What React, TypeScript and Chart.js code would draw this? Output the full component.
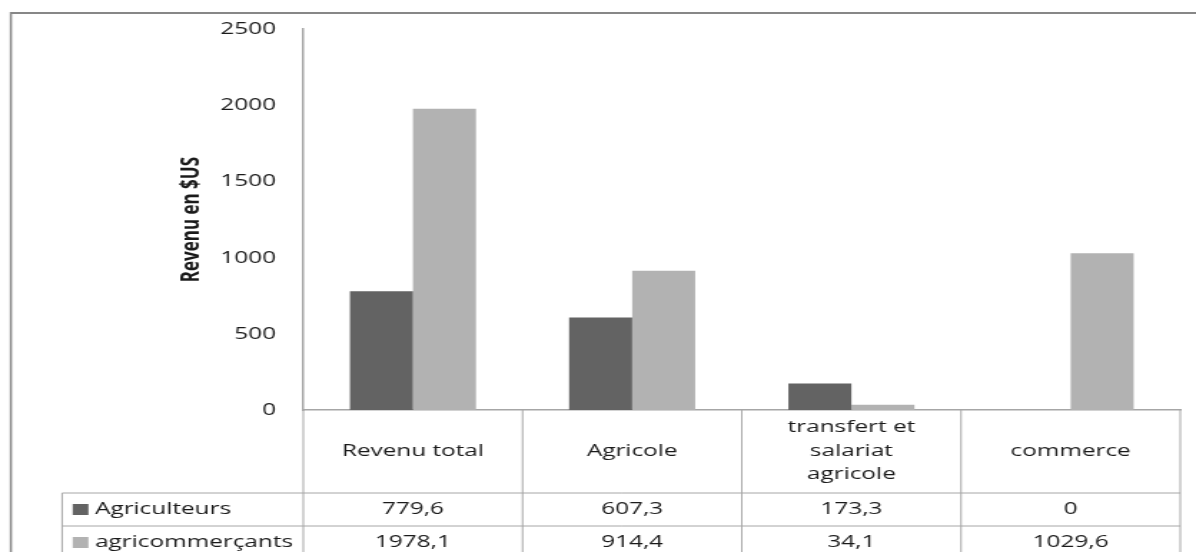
import React, { useEffect, useRef } from "react";
import { Chart, registerables } from "chart.js";

Chart.register(...registerables);

// ---- data ----
const categories: string[][] = [
  ["Revenu total"],
  ["Agricole"],
  ["transfert et", "salariat", "agricole"],
  ["commerce"],
];
const seriesNames: string[] = ["Agriculteurs", "agricommerçants"];
const agriculteurs: number[] = [779.6, 607.3, 173.3, 0];
const agricommercants: number[] = [1978.1, 914.4, 34.1, 1029.6];
const yTickValues: number[] = [0, 500, 1000, 1500, 2000, 2500];
const yAxisTitle = "Revenu en $US";
const seriesColors: string[] = ["#636363", "#b2b2b2"];

// ---- layout (logical canvas, stretched horizontally like the reference) ----
const SX = 1.43;
const W = Math.round(1196 / SX);
const H = 552;
const FONT = "'Open Sans', 'DejaVu Sans', sans-serif";
const TEXT = "#1a1a1a";
const LINE = "#a6a6a6";

const fmt = (v: number) => String(v).replace(".", ",");

const tablePlugin = {
  id: "dataTable",
  afterDraw(chart: any) {
    const ctx: CanvasRenderingContext2D = chart.ctx;
    const area = chart.chartArea;
    const xs = chart.scales.x;
    const n = categories.length;
    const cw = (area.right - area.left) / n;
    const tableLeft = 43.4;
    const rowTops = [493, 526];
    const rowH = 33;
    const bottom = H + 20;

    const line = (x1: number, y1: number, x2: number, y2: number) => {
      ctx.beginPath();
      ctx.moveTo(x1, y1);
      ctx.lineTo(x2, y2);
      ctx.stroke();
    };

    ctx.save();
    ctx.strokeStyle = LINE;
    ctx.lineWidth = 1;
    // axis extension + category boundaries
    line(area.left, area.bottom, area.left, bottom);
    for (let k = 1; k <= n; k++) {
      const xk = area.left + cw * k;
      line(xk, area.bottom, xk, bottom);
    }
    // table rows
    line(tableLeft, rowTops[0], tableLeft, bottom);
    rowTops.forEach((t) => line(tableLeft, t, area.right, t));

    // row headers and values
    const series = [agriculteurs, agricommercants];
    ctx.font = `17px ${FONT}`;
    ctx.textBaseline = "middle";
    series.forEach((vals, r) => {
      const cy = rowTops[r] + rowH / 2;
      ctx.fillStyle = seriesColors[r];
      ctx.fillRect(50.8, cy - 5.5, 11, 11);
      ctx.fillStyle = TEXT;
      ctx.textAlign = "left";
      ctx.fillText(seriesNames[r], 66.4, cy);
      ctx.textAlign = "center";
      vals.forEach((v, i) => {
        ctx.fillText(fmt(v), xs.getPixelForValue(i), cy);
      });
    });

    // outer frame
    ctx.strokeStyle = "#878787";
    ctx.lineWidth = 2;
    line(7.3, 13, W + 5, 13);
    ctx.lineWidth = 1.5;
    line(7.6, 12, 7.6, bottom);
    ctx.restore();
  },
};

export default function App() {
  const ref = useRef<HTMLCanvasElement | null>(null);

  useEffect(() => {
    if (!ref.current) return;
    const chart = new Chart(ref.current, {
      type: "bar",
      data: {
        labels: categories as any,
        datasets: [
          {
            label: seriesNames[0],
            data: agriculteurs,
            backgroundColor: seriesColors[0],
            barPercentage: 1,
            categoryPercentage: 0.575,
          },
          {
            label: seriesNames[1],
            data: agricommercants,
            backgroundColor: seriesColors[1],
            barPercentage: 1,
            categoryPercentage: 0.575,
          },
        ],
      },
      options: {
        responsive: false,
        animation: false,
        devicePixelRatio: 1,
        layout: { padding: { left: 0, top: 24, right: W - 825, bottom: 0 } },
        plugins: {
          legend: { display: false },
          tooltip: { enabled: false },
        },
        scales: {
          x: {
            type: "category",
            offset: true,
            grid: { display: false, drawTicks: false },
            border: { display: true, color: LINE, width: 1.5 },
            ticks: {
              color: TEXT,
              font: { family: FONT, size: 17, lineHeight: 1.4 },
              padding: 17,
              crossAlign: "center",
              maxRotation: 0,
              minRotation: 0,
              autoSkip: false,
            },
            afterFit: (s: any) => {
              s.height = H - 410;
            },
          },
          y: {
            min: 0,
            max: 2500,
            afterBuildTicks: (s: any) => {
              s.ticks = yTickValues.map((v) => ({ value: v }));
            },
            grid: { display: false, drawTicks: false },
            border: { display: true, color: LINE, width: 1.5 },
            ticks: {
              color: TEXT,
              font: { family: FONT, size: 17 },
              padding: 19,
              callback: (v: any) => String(v),
            },
            title: {
              display: true,
              text: yAxisTitle,
              color: TEXT,
              font: { family: FONT, size: 17, weight: "bold" },
              padding: { top: 124, bottom: 0 },
            },
            afterFit: (s: any) => {
              s.width = 212;
            },
          },
        },
      },
      plugins: [tablePlugin],
    });
    return () => chart.destroy();
  }, []);

  return (
    <div style={{ position: "absolute", left: 0, top: 0, width: 1196, height: H, background: "#fff", overflow: "hidden" }}>
      <canvas
        ref={ref}
        width={W}
        height={H}
        style={{ width: "1196px", height: `${H}px`, display: "block" }}
      />
    </div>
  );
}
